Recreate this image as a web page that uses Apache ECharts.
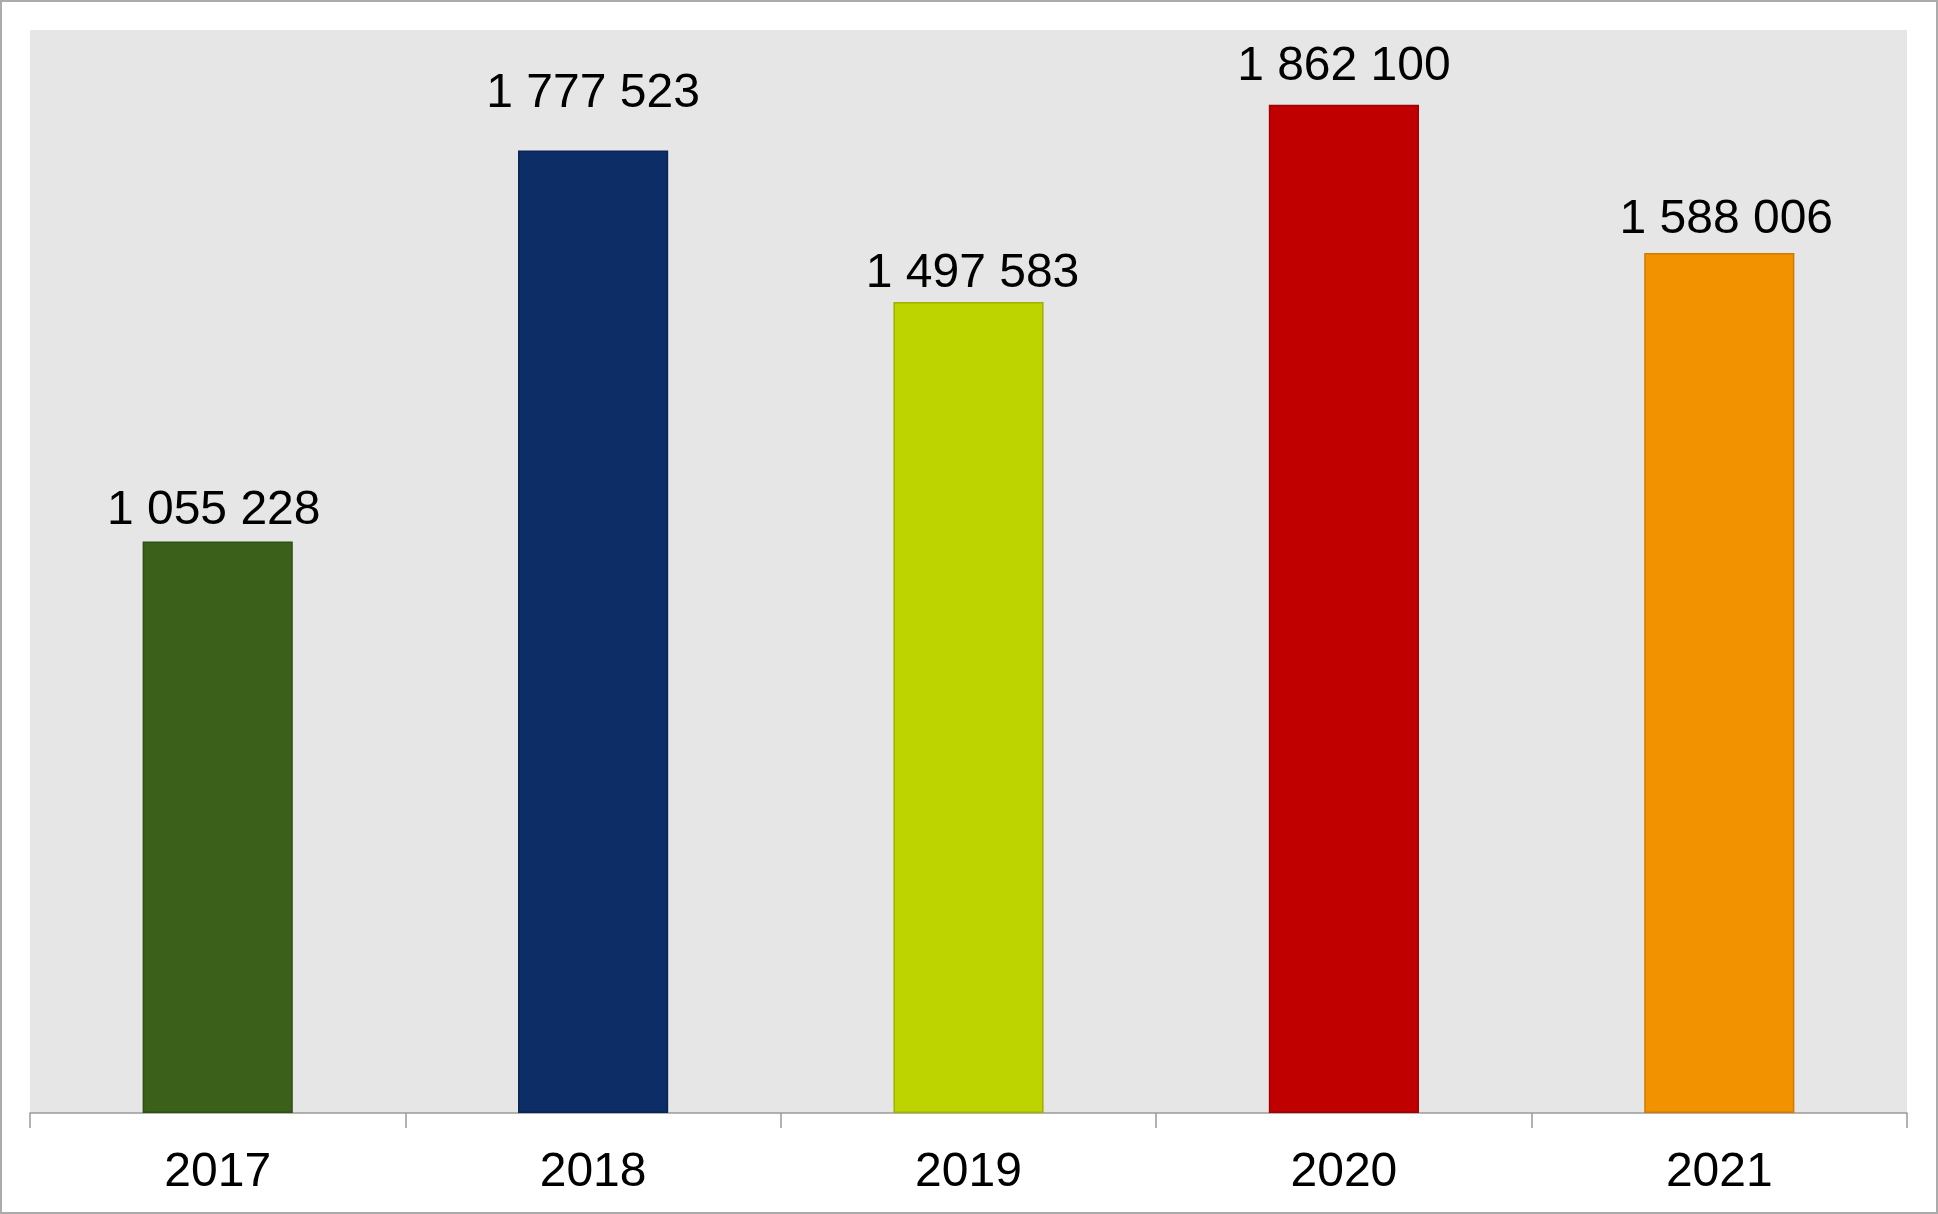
<!DOCTYPE html>
<html><head><meta charset="utf-8">
<script src="https://cdn.jsdelivr.net/npm/echarts@6/dist/echarts.min.js"></script>
<style>
html,body{margin:0;padding:0;background:#fff;}
#c{width:1938px;height:1214px;box-sizing:border-box;border:2px solid #ababab;}
</style></head><body>
<div id="c"></div>
<script>
const categories = ['2017','2018','2019','2020','2021'];
const values = [1055228, 1777523, 1497583, 1862100, 1588006];
const colors = ['#3A6019','#0C2D66','#BED400','#C00000','#F39200'];
const borders = ['#2f4f12','#0a2555','#9fb000','#a00000','#d07a00'];
const labelDistance = [7, 33, 4, 14, 9];
const labelShiftX = [-4, 0, 4, 0, 7];

const chart = echarts.init(document.getElementById('c'));
const fmt = v => String(v).replace(/\B(?=(\d{3})+(?!\d))/g, ' ');
chart.setOption({
  animation:false,
  grid:{left:28,right:29,top:28,bottom:99,show:true,backgroundColor:'#E6E6E6',borderWidth:0},
  xAxis:{type:'category',data:categories,boundaryGap:true,
    axisLine:{lineStyle:{color:'#9a9a9a',width:1.5}},
    axisTick:{show:true,alignWithLabel:false,length:15,lineStyle:{color:'#9a9a9a',width:1.5}},
    axisLabel:{color:'#000',fontFamily:'Liberation Sans',fontSize:48,margin:36}},
  yAxis:{type:'value',min:0,max:2000000,show:false,splitLine:{show:false}},
  series:[{type:'bar',barWidth:'40%',
    data:values.map((v,i)=>({value:v,
      itemStyle:{color:colors[i],borderColor:borders[i],borderWidth:1.5},
      label:{distance:labelDistance[i],offset:[labelShiftX[i],0]}})),
    label:{show:true,position:'top',color:'#000',fontFamily:'Liberation Sans',fontSize:48,formatter:p=>fmt(p.value)}}]
});
</script></body></html>
